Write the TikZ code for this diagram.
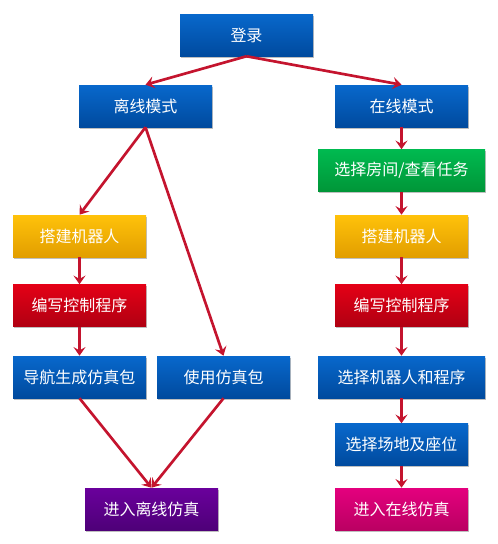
\documentclass[tikz,border=0pt]{standalone}
\usepackage{fontspec}
\newfontfamily\cjk{Noto Sans CJK SC}
\usetikzlibrary{arrows.meta,shadows}

\definecolor{blueT}{RGB}{8,104,204}
\definecolor{blueB}{RGB}{0,74,158}
\definecolor{greenT}{RGB}{0,186,80}
\definecolor{greenB}{RGB}{0,150,56}
\definecolor{yellowT}{RGB}{255,194,10}
\definecolor{yellowB}{RGB}{226,158,0}
\definecolor{redT}{RGB}{228,0,22}
\definecolor{redB}{RGB}{176,0,18}
\definecolor{purpleT}{RGB}{106,0,156}
\definecolor{purpleB}{RGB}{78,0,120}
\definecolor{pinkT}{RGB}{228,0,126}
\definecolor{pinkB}{RGB}{186,0,98}
\definecolor{arrowred}{RGB}{196,20,46}

\tikzset{
  box/.style={rectangle, minimum width=133*0.75pt, minimum height=42*0.75pt,
    inner sep=0pt, text=white, font=\cjk\fontsize{12}{14}\selectfont,
    drop shadow={shadow xshift=0.8pt, shadow yshift=-1.2pt, fill=black, opacity=0.25}},
  widebox/.style={box, minimum width=167*0.75pt},
  bluebox/.style={top color=blueT, bottom color=blueB},
  greenbox/.style={top color=greenT, bottom color=greenB},
  yellowbox/.style={top color=yellowT, bottom color=yellowB},
  redbox/.style={top color=redT, bottom color=redB},
  purplebox/.style={top color=purpleT, bottom color=purpleB},
  pinkbox/.style={top color=pinkT, bottom color=pinkB},
  flow/.style={draw=arrowred, line width=2pt,
    -{Stealth[length=6.5pt,width=9pt,inset=2.5pt]}},
}

\begin{document}
\begin{tikzpicture}[x=0.75pt,y=-0.75pt]
  \useasboundingbox (0,0) rectangle (498,544);

  % top
  \node[box,bluebox] (denglu) at (246.5,35) {登录};
  \node[box,bluebox] (lixian) at (145.5,106) {离线模式};
  \node[box,bluebox] (zaixian) at (401.5,106) {在线模式};

  % offline branch
  \node[box,yellowbox] (dajianL) at (79.5,236) {搭建机器人};
  \node[box,redbox] (bianxieL) at (79.5,305.5) {编写控制程序};
  \node[box,bluebox] (daohang) at (79.5,377) {导航生成仿真包};
  \node[box,bluebox] (shiyong) at (223.5,377) {使用仿真包};
  \node[box,purplebox] (jinruL) at (151.5,509) {进入离线仿真};

  % online branch
  \node[widebox,greenbox] (xuanfang) at (401.5,170.5) {选择房间/查看任务};
  \node[box,yellowbox] (dajianR) at (401.5,236) {搭建机器人};
  \node[box,redbox] (bianxieR) at (401.5,305.5) {编写控制程序};
  \node[widebox,bluebox] (xuanjiqi) at (401.5,377) {选择机器人和程序};
  \node[box,bluebox] (xuanchang) at (401.5,444.5) {选择场地及座位};
  \node[box,pinkbox] (jinruR) at (401.5,509) {进入在线仿真};

  \draw[flow] (denglu.south) -- (lixian.north);
  \draw[flow] (denglu.south) -- (zaixian.north);

  \draw[flow] (lixian.south) -- (dajianL.north);
  \draw[flow] (lixian.south) -- (shiyong.north);
  \draw[flow] (dajianL) -- (bianxieL);
  \draw[flow] (bianxieL) -- (daohang);
  \draw[flow] (daohang.south) -- (jinruL.north);
  \draw[flow] (shiyong.south) -- (jinruL.north);

  \draw[flow] (zaixian) -- (xuanfang);
  \draw[flow] (xuanfang) -- (dajianR);
  \draw[flow] (dajianR) -- (bianxieR);
  \draw[flow] (bianxieR) -- (xuanjiqi);
  \draw[flow] (xuanjiqi) -- (xuanchang);
  \draw[flow] (xuanchang) -- (jinruR);
\end{tikzpicture}
\end{document}
